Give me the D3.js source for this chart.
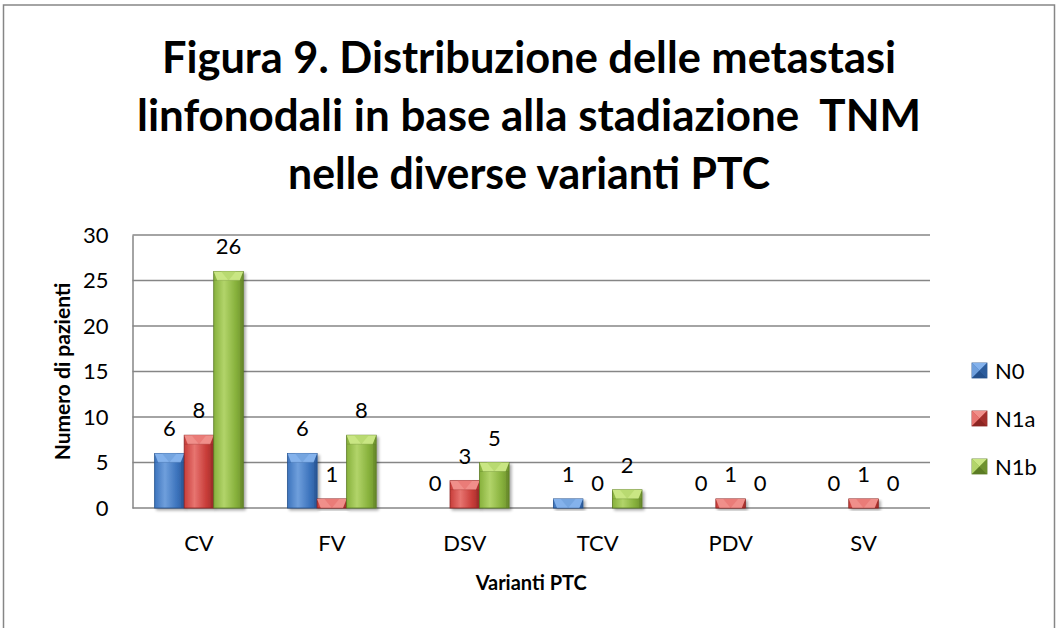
<!DOCTYPE html>
<html><head><meta charset="utf-8">
<script src="https://cdn.jsdelivr.net/npm/d3@7/dist/d3.min.js"></script>
<style>
html,body{margin:0;padding:0;background:#fff;}
svg{display:block;}
text{font-family:Lato,"Open Sans",sans-serif;fill:#000;}
</style></head>
<body>
<svg id="chart" width="1059" height="628"></svg>
<script>
const titleLines = ["Figura 9. Distribuzione delle metastasi","linfonodali in base alla stadiazione  TNM","nelle diverse varianti PTC"];
const categories = ["CV","FV","DSV","TCV","PDV","SV"];
const seriesNames = ["N0","N1a","N1b"];
const N0  = [6,6,0,1,0,0];
const N1a = [8,1,3,0,1,1];
const N1b = [26,8,5,2,0,0];
const yTicks = [0,5,10,15,20,25,30];
const xTitle = "Varianti PTC";
const yTitle = "Numero di pazienti";

const seriesValues = [N0, N1a, N1b];
const palettes = [
  {body:"#3d74bd", light:"#6f9fdc", dark:"#24508c", top:"#84b2ec", side:"#2c5c9c"},
  {body:"#c83d39", light:"#e77470", dark:"#8c2522", top:"#f08f8a", side:"#a22f2c"},
  {body:"#87b13c", light:"#b2d46a", dark:"#5b7b24", top:"#c9e683", side:"#6e922e"}
];

const svg = d3.select("#chart");
const defs = svg.append("defs");
palettes.forEach((p,i)=>{
  const g = defs.append("linearGradient").attr("id","body"+i).attr("x1","0").attr("x2","1").attr("y1","0").attr("y2","0");
  g.append("stop").attr("offset","0").attr("stop-color",p.body);
  g.append("stop").attr("offset","0.35").attr("stop-color",p.light);
  g.append("stop").attr("offset","0.75").attr("stop-color",p.body);
  g.append("stop").attr("offset","1").attr("stop-color",p.side);
});
const sh = defs.append("filter").attr("id","shadow").attr("x","-20%").attr("y","-20%").attr("width","150%").attr("height","150%");
sh.append("feGaussianBlur").attr("in","SourceAlpha").attr("stdDeviation","1.6");
sh.append("feOffset").attr("dx","2").attr("dy","2").attr("result","ob");
sh.append("feComponentTransfer").append("feFuncA").attr("type","linear").attr("slope","0.35");
const mg = sh.append("feMerge"); mg.append("feMergeNode"); mg.append("feMergeNode").attr("in","SourceGraphic");

// chart border
svg.append("rect").attr("x",3.5).attr("y",5).attr("width",1051).attr("height",640)
  .attr("fill","#fff").attr("stroke","#868686").attr("stroke-width",1.5);

// title
const titleWidths = [734, 784, 482];
const title = svg.append("g");
titleLines.forEach((t,i)=>{
  title.append("text").attr("x",529).attr("y",73+i*58).attr("text-anchor","middle")
    .attr("textLength",titleWidths[i]).attr("lengthAdjust","spacingAndGlyphs")
    .style("white-space","pre").attr("xml:space","preserve")
    .style("font-size","43px").style("font-weight","700").text(t);
});

const plot = {left:132.5, right:930, top:235, bottom:508};
const x = d3.scaleBand().domain(categories).range([plot.left, plot.right]).paddingInner(1/3).paddingOuter(1/6);
const y = d3.scaleLinear().domain([0,30]).range([plot.bottom, plot.top]);
const x1 = d3.scaleBand().domain(seriesNames).range([0, x.bandwidth()]).padding(0);

// gridlines
svg.append("g").selectAll("line").data(yTicks).join("line")
  .attr("x1",plot.left).attr("x2",plot.right).attr("y1",d=>y(d)).attr("y2",d=>y(d))
  .attr("stroke","#868686").attr("stroke-width",1.5);

// y axis
const yAxis = svg.append("g").attr("transform",`translate(${plot.left},0)`)
  .call(d3.axisLeft(y).tickValues(yTicks).tickSize(0).tickPadding(24));
yAxis.select(".domain").attr("stroke","#868686").attr("stroke-width",1.5);
yAxis.selectAll("text").style("font-size","22px").style("font-family","Lato, sans-serif").attr("fill","#000");

// x axis
const xAxis = svg.append("g").attr("transform",`translate(0,${plot.bottom})`)
  .call(d3.axisBottom(x).tickSize(0).tickPadding(27));
xAxis.select(".domain").remove();
xAxis.selectAll("text").style("font-size","22px").style("font-family","Lato, sans-serif").attr("fill","#000");

// bars
const bev = 9;
const groups = svg.append("g").selectAll("g").data(categories).join("g")
  .attr("transform",c=>`translate(${x(c)},0)`);
seriesNames.forEach((s,si)=>{
  const p = palettes[si];
  groups.each(function(c,ci){
    const v = seriesValues[si][ci];
    if (v<=0) return;
    const bx = x1(s), bw = x1.bandwidth(), by = y(v), bh = y(0)-y(v);
    const g = d3.select(this).append("g");
    g.append("rect").attr("x",bx).attr("y",by).attr("width",bw).attr("height",bh)
      .attr("fill",`url(#body${si})`).attr("stroke",p.dark).attr("stroke-width",0.8).attr("filter","url(#shadow)");
    const b = Math.min(bev, bh, bw/2);
    // top bevel
    g.append("path").attr("d",`M${bx},${by} L${bx+bw},${by} L${bx+bw-b*0.4},${by+b} L${bx+b*0.4},${by+b} Z`)
      .attr("fill",p.top);
    // middle V notch
    g.append("path").attr("d",`M${bx+bw*0.25},${by} L${bx+bw*0.75},${by} L${bx+bw/2},${by+b} Z`)
      .attr("fill",p.light).attr("opacity",0.7);
    g.append("line").attr("x1",bx+0.5).attr("x2",bx+bw-0.5).attr("y1",by+b).attr("y2",by+b)
      .attr("stroke",p.dark).attr("stroke-opacity",0.3).attr("stroke-width",1);
    // right shade strip
    g.append("rect").attr("x",bx+bw-3).attr("y",by+b).attr("width",3).attr("height",Math.max(0,bh-b))
      .attr("fill",p.dark).attr("opacity",0.35);
  });
});

// labels
seriesNames.forEach((s,si)=>{
  groups.append("text")
    .attr("x",x1(s)+x1.bandwidth()/2)
    .attr("y",(c,ci)=>y(seriesValues[si][ci])-17)
    .attr("text-anchor","middle").style("font-size","22px")
    .text((c,ci)=>seriesValues[si][ci]);
});

// axis titles
svg.append("text").attr("x",(plot.left+plot.right)/2).attr("y",590).attr("text-anchor","middle")
  .style("font-size","20px").style("font-weight","700").text(xTitle);
svg.append("text").attr("transform",`translate(69.5,${(plot.top+plot.bottom)/2}) rotate(-90)`)
  .attr("text-anchor","middle").style("font-size","21px").style("font-weight","700").text(yTitle);

// legend
const lg = svg.append("g").selectAll("g").data(seriesNames).join("g")
  .attr("transform",(d,i)=>`translate(972,${370.5+i*48})`);
const m = 15, h = m/2;
lg.append("rect").attr("x",0).attr("y",-h).attr("width",m).attr("height",m)
  .attr("fill",(d,i)=>palettes[i].body).attr("stroke",(d,i)=>palettes[i].dark).attr("stroke-width",0.8);
lg.append("path").attr("d",`M0,${-h} L${m},${-h} L${h},0 Z`).attr("fill",(d,i)=>palettes[i].top);
lg.append("path").attr("d",`M0,${-h} L0,${h} L${h},0 Z`).attr("fill",(d,i)=>palettes[i].light);
lg.append("path").attr("d",`M${m},${-h} L${m},${h} L${h},0 Z`).attr("fill",(d,i)=>palettes[i].side);
lg.append("path").attr("d",`M0,${h} L${m},${h} L${h},0 Z`).attr("fill",(d,i)=>palettes[i].dark);
lg.append("text").attr("x",23).attr("y",8).style("font-size","22px").text(d=>d);
</script>
</body></html>
